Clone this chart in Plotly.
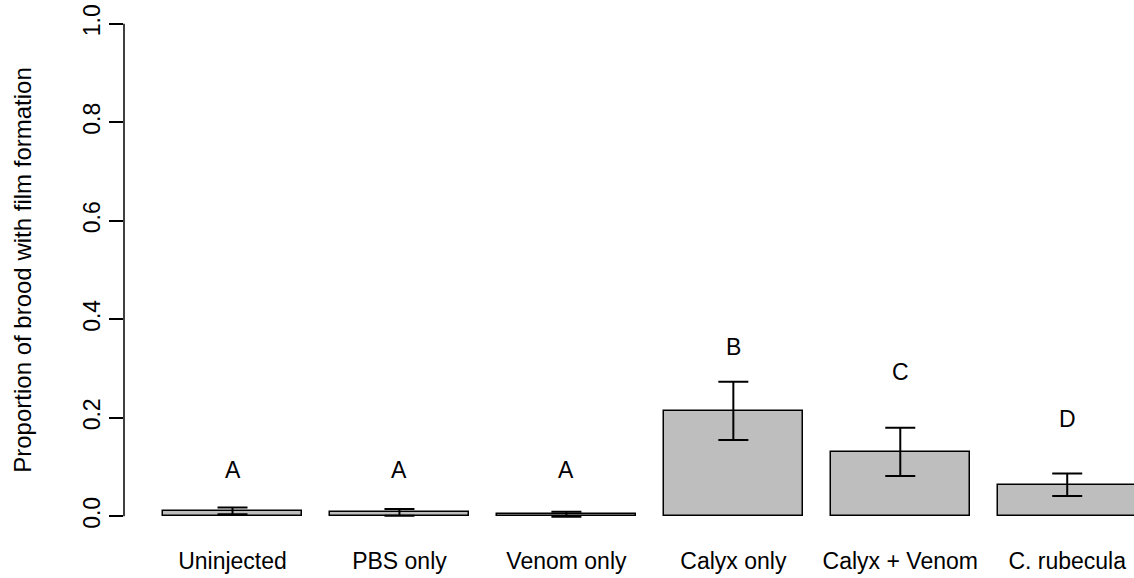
import plotly.graph_objects as go

# Treatment groups and observed proportions (mean ± SE)
treatments = ["Uninjected", "PBS only", "Venom only", "Calyx only", "Calyx + Venom", "C. rubecula"]
proportion = [0.011, 0.008, 0.004, 0.214, 0.131, 0.064]
std_error = [0.007, 0.007, 0.005, 0.059, 0.049, 0.023]

# Significance groupings and the height at which each letter is printed
sig_letters = ["A", "A", "A", "B", "C", "D"]
letter_height = [0.093, 0.093, 0.093, 0.344, 0.293, 0.197]

# barplot-style layout: unit-width bars separated by a 0.2 gap
bar_pos = [0.7 + 1.2 * i for i in range(len(treatments))]

FONT = "Liberation Sans, Arial, sans-serif"
FS = 23

fig = go.Figure()
fig.add_trace(go.Bar(
    x=bar_pos,
    y=proportion,
    width=1.0,
    marker=dict(color="#bebebe", line=dict(color="black", width=1.5)),
    error_y=dict(type="data", array=std_error, symmetric=True,
                 color="black", thickness=2, width=15),
    showlegend=False,
    hoverinfo="skip",
))

for xp, lab, yh in zip(bar_pos, sig_letters, letter_height):
    fig.add_annotation(x=xp, y=yh, text=lab, showarrow=False,
                       font=dict(family=FONT, size=FS, color="black"),
                       xanchor="center", yanchor="middle")

# y axis line spanning only the labelled range
fig.add_shape(type="line", xref="paper", yref="y", x0=0, x1=0, y0=0, y1=1,
              line=dict(color="black", width=1.5))

fig.update_layout(
    width=1134, height=578,
    margin=dict(l=124, r=0, t=4, b=42),
    paper_bgcolor="white", plot_bgcolor="white",
    font=dict(family=FONT, size=FS, color="black"),
    bargap=0,
    xaxis=dict(
        range=[-0.08, 7.18],
        tickmode="array", tickvals=bar_pos, ticktext=treatments,
        showgrid=False, zeroline=False, showline=False, ticks="",
        ticklabelstandoff=9,
        tickfont=dict(family=FONT, size=FS, color="black"),
    ),
    yaxis=dict(
        range=[-0.04, 1.04],
        tickmode="array", tickvals=[0, 0.2, 0.4, 0.6, 0.8, 1.0],
        ticktext=["0.0", "0.2", "0.4", "0.6", "0.8", "1.0"],
        tickangle=-90,
        ticks="outside", ticklen=14, tickwidth=1.5, tickcolor="black",
        showgrid=False, zeroline=False, showline=False,
        tickfont=dict(family=FONT, size=FS, color="black"),
        title=dict(text="Proportion of brood with film formation",
                   font=dict(family=FONT, size=24, color="black"), standoff=40),
        automargin=False,
    ),
)

fig.write_html("out.html")
